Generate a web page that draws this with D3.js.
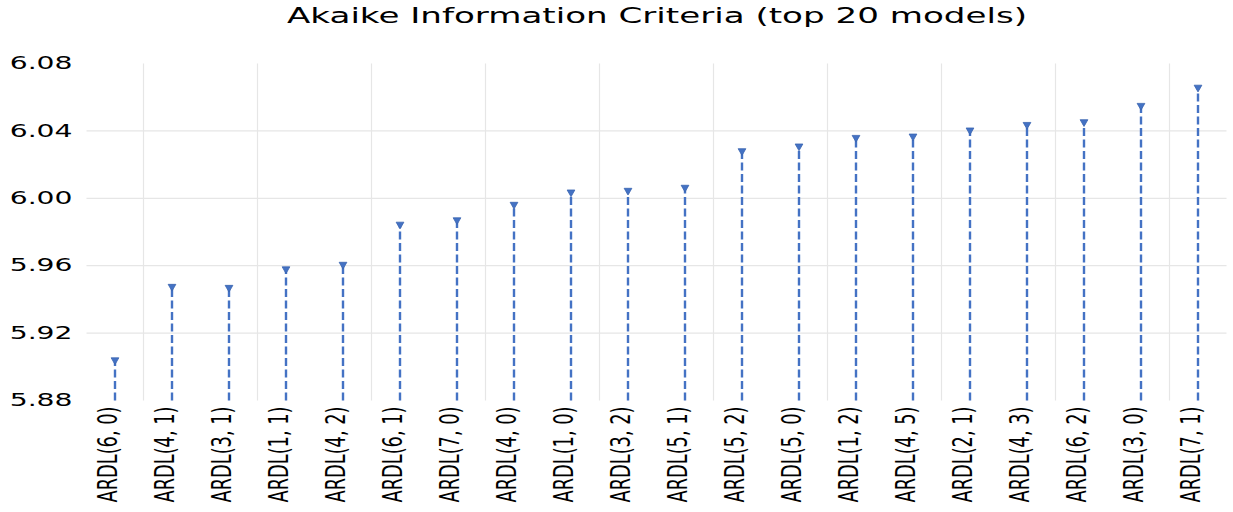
<!DOCTYPE html>
<html>
<head>
<meta charset="utf-8">
<script src="https://cdn.jsdelivr.net/npm/d3@7"></script>
<style>
  body { margin: 0; background: #fff; }
  svg { display: block; }
</style>
</head>
<body>
<div id="chart"></div>
<script>
// model labels, in plot order
const models = ["ARDL(6, 0)", "ARDL(4, 1)", "ARDL(3, 1)", "ARDL(1, 1)", "ARDL(4, 2)",
  "ARDL(6, 1)", "ARDL(7, 0)", "ARDL(4, 0)", "ARDL(1, 0)", "ARDL(3, 2)",
  "ARDL(5, 1)", "ARDL(5, 2)", "ARDL(5, 0)", "ARDL(1, 2)", "ARDL(4, 5)",
  "ARDL(2, 1)", "ARDL(4, 3)", "ARDL(6, 2)", "ARDL(3, 0)", "ARDL(7, 1)"];
// AIC values
const aic = [5.904, 5.9476, 5.947, 5.958, 5.9607,
  5.9845, 5.9871, 5.9963, 6.0036, 6.0046,
  6.0064, 6.0281, 6.0309, 6.036, 6.0368,
  6.0404, 6.0437, 6.0453, 6.055, 6.0658];
const yTicks = [5.88, 5.92, 5.96, 6.00, 6.04, 6.08];
const title = "Akaike Information Criteria (top 20 models)";

var width = 1233, height = 512;
var margin = {top: 63.5, right: 6.5, bottom: 111.5, left: 86.5};
var blue = "#4472C4";

var svg = d3.select("#chart").append("svg")
  .attr("width", width)
  .attr("height", height);

// X scale
var x = d3.scaleBand()
  .domain(models)
  .range([margin.left, width - margin.right])
  .padding(0);

// Y scale
var y = d3.scaleLinear()
  .domain([d3.min(yTicks), d3.max(yTicks)])
  .range([height - margin.bottom, margin.top]);

// horizontal gridlines (inner ones only)
svg.append("g")
  .selectAll("line")
  .data(yTicks.slice(1, -1))
  .enter().append("line")
  .attr("x1", margin.left)
  .attr("x2", width - margin.right)
  .attr("y1", d => y(d))
  .attr("y2", d => y(d))
  .attr("stroke", "#e6e6e6")
  .attr("stroke-width", 1.2);

// vertical gridlines every second category
svg.append("g")
  .selectAll("line")
  .data(models.filter((m, i) => i % 2 == 0 && i < models.length - 1))
  .enter().append("line")
  .attr("x1", d => x(d) + x.bandwidth())
  .attr("x2", d => x(d) + x.bandwidth())
  .attr("y1", y(d3.max(yTicks)))
  .attr("y2", y(d3.min(yTicks)))
  .attr("stroke", "#e6e6e6")
  .attr("stroke-width", 1.2);

// y axis labels (stretched wide like the original)
var yAxis = svg.append("g")
  .attr("transform", "translate(" + (margin.left - 14) + ",0)")
  .call(d3.axisLeft(y).tickValues(yTicks).tickFormat(d3.format(".2f")).tickSize(0).tickPadding(0));
yAxis.select(".domain").remove();
yAxis.selectAll("text")
  .attr("font-family", "DejaVu Sans")
  .attr("font-size", 17)
  .attr("fill", "#000")
  .attr("dy", "0.3em")
  .attr("transform", "scale(1.66,1)")
  .attr("x", 0);

// dashed stems
svg.append("g")
  .selectAll("line")
  .data(aic)
  .enter().append("line")
  .attr("x1", (d, i) => x(models[i]) + x.bandwidth() / 2)
  .attr("x2", (d, i) => x(models[i]) + x.bandwidth() / 2)
  .attr("y1", y(d3.min(yTicks)))
  .attr("y2", d => y(d))
  .attr("stroke", blue)
  .attr("stroke-width", 2.4)
  .attr("stroke-dasharray", "8,3.5");

// down-triangle markers
var tri = d3.symbol().type(d3.symbolTriangle).size(26);
svg.append("g")
  .selectAll("path")
  .data(aic)
  .enter().append("path")
  .attr("d", tri)
  .attr("transform", (d, i) => "translate(" + (x(models[i]) + x.bandwidth() / 2) + "," + y(d) + ") rotate(180)")
  .attr("fill", blue)
  .attr("stroke", "#3a64b0")
  .attr("stroke-width", 0.8);

// rotated category labels (tall, condensed)
svg.append("g")
  .selectAll("text")
  .data(models)
  .enter().append("text")
  .attr("transform", d => "translate(" + (x(d) + x.bandwidth() / 2 + 2) + "," + (y(d3.min(yTicks)) + 6) + ") rotate(-90)")
  .attr("text-anchor", "end")
  .attr("font-family", "DejaVu Sans Condensed, DejaVu Sans, sans-serif")
  .attr("font-size", 27)
  .attr("textLength", 96)
  .attr("lengthAdjust", "spacingAndGlyphs")
  .attr("fill", "#000")
  .text(d => d);

// title
svg.append("text")
  .attr("x", 657)
  .attr("y", 23)
  .attr("text-anchor", "middle")
  .attr("font-family", "DejaVu Sans")
  .attr("font-size", 21)
  .attr("fill", "#000")
  .attr("textLength", 740)
  .attr("lengthAdjust", "spacingAndGlyphs")
  .text(title);
</script>
</body>
</html>
